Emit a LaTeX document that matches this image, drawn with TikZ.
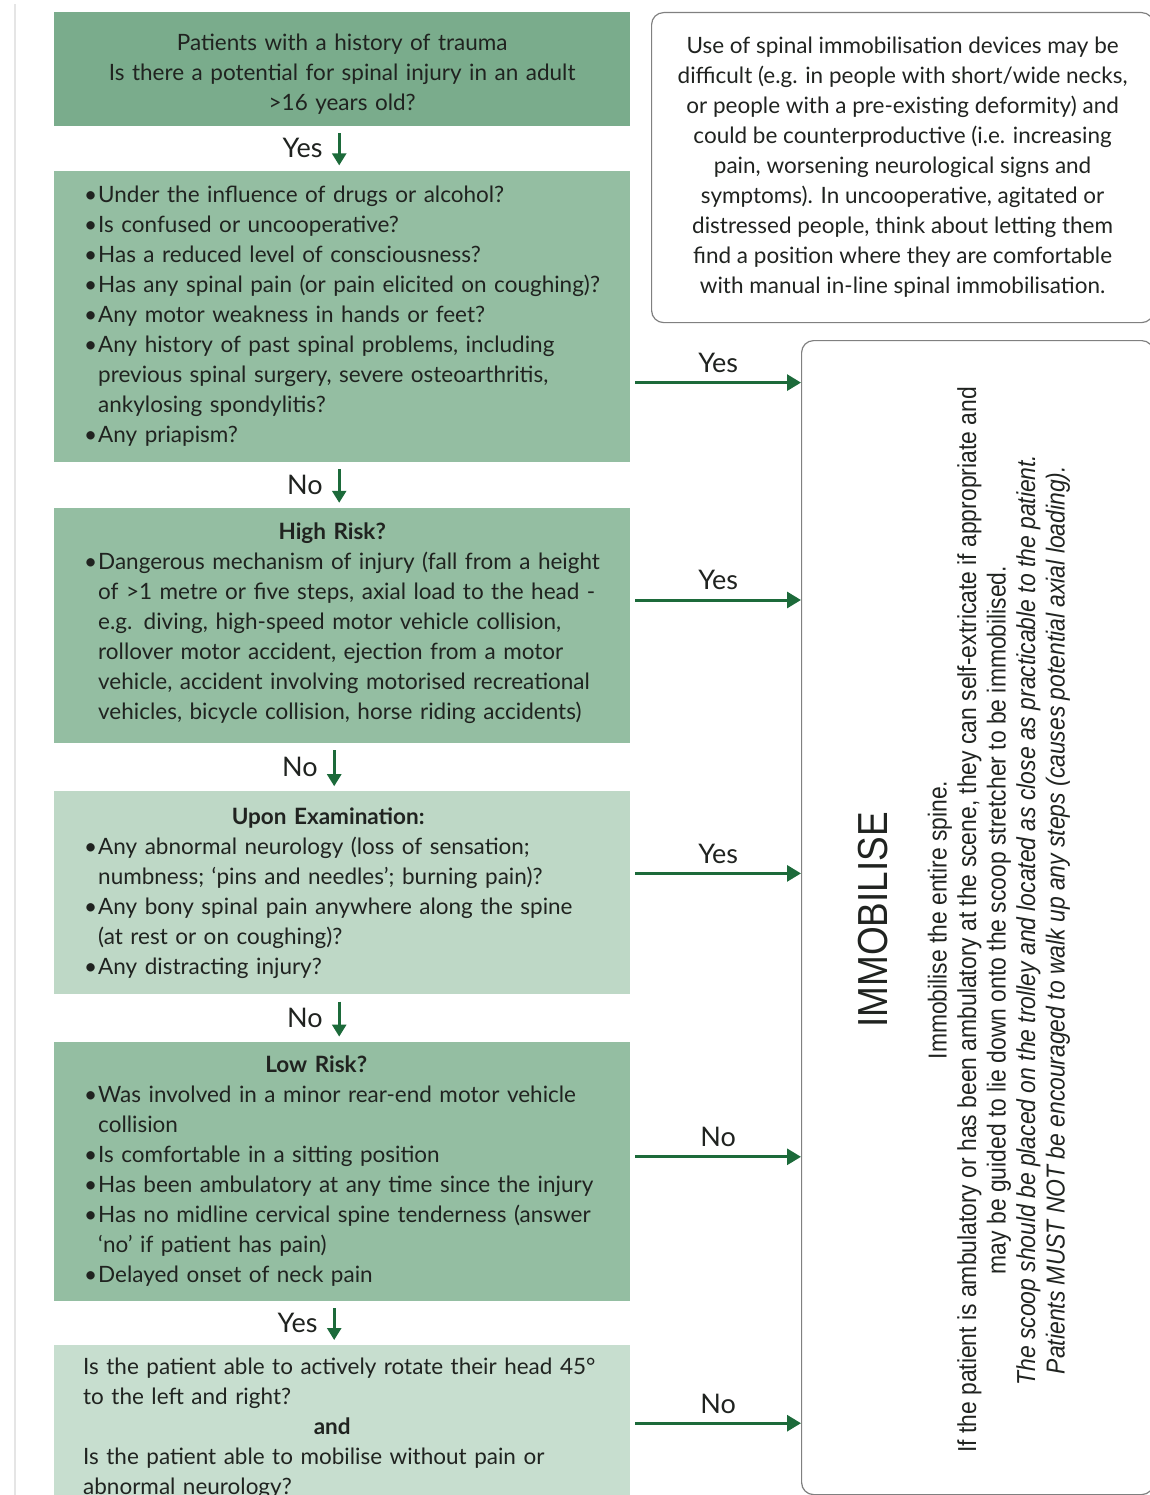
\documentclass[tikz,border=0pt]{standalone}
\usepackage{fontspec}
\setmainfont{Lato}
\newfontfamily\narrowfont[FakeStretch=0.88]{Liberation Sans}
\usetikzlibrary{positioning,arrows.meta}
\definecolor{gdark}{RGB}{122,172,140}
\definecolor{gmid}{RGB}{148,190,162}
\definecolor{gpale}{RGB}{190,216,198}
\definecolor{gpaler}{RGB}{199,222,207}
\definecolor{arrowgreen}{RGB}{28,106,58}
\definecolor{ink}{RGB}{32,35,32}
\newcommand\itm[1]{\par\hangindent=14pt\hangafter=1\noindent\makebox[14pt][l]{\textbullet}#1}
\newcommand\hd[2][0pt]{\centerline{\hspace*{#1}\bfseries #2}}
\begin{document}
\begin{tikzpicture}[x=1pt,y=-1pt, font=\fontsize{22.5}{30}\selectfont, every node/.style={text=ink},
  bx/.style={fill=#1, minimum width=576pt, text width=556pt, inner xsep=10pt, inner ysep=0pt, align=left},
  nt/.style={draw=black!50, line width=1.2pt, rounded corners=12pt},
  darr/.style={draw=arrowgreen, line width=2.6pt, -{Triangle[length=12pt,width=14pt]}, shorten <=7pt, shorten >=5pt},
  rarr/.style={draw=arrowgreen, line width=3pt, -{Triangle[length=14pt,width=16pt]}},
  lbl/.style={font=\fontsize{27}{27}\selectfont}]
\useasboundingbox (0,0) rectangle (1150,1495);
\draw[line width=2pt, black!10] (15,4) -- (15,1495);
\node[bx=gdark, align=center, minimum height=114pt, anchor=north west] (trauma) at (54,12) {Patients with a history of trauma\\ Is there a potential for spinal injury in an adult\\ >16 years old?\vspace*{-10pt}};
\node[bx=gmid, minimum height=291pt, below=44pt of trauma] (redflag) {\leftskip=20pt
 \itm{Under the influence of drugs or alcohol?}
 \itm{Is confused or uncooperative?}
 \itm{Has a reduced level of consciousness?}
 \itm{Has any spinal pain (or pain elicited on coughing)?}
 \itm{Any motor weakness in hands or feet?}
 \itm{Any history of past spinal problems, including\newline previous spinal surgery, severe osteoarthritis,\newline ankylosing spondylitis?}
 \itm{Any priapism?}\par\vspace*{14pt}};
\node[bx=gmid, minimum height=235pt, below=46pt of redflag] (highrisk) {\leftskip=20pt
 \hd[-60pt]{High Risk?}
 \itm{Dangerous mechanism of injury (fall from a height\newline of >1 metre or five steps, axial load to the head -\newline e.g. diving, high-speed motor vehicle collision,\newline rollover motor accident, ejection from a motor\newline vehicle, accident involving motorised recreational\newline vehicles, bicycle collision, horse riding accidents)}\par\vspace*{4pt}};
\node[bx=gpale, minimum height=203pt, below=48pt of highrisk] (exam) {\leftskip=20pt
 \hd[-68pt]{Upon Examination:}
 \itm{Any abnormal neurology (loss of sensation;\newline numbness; `pins and needles'; burning pain)?}
 \itm{Any bony spinal pain anywhere along the spine\newline (at rest or on coughing)?}
 \itm{Any distracting injury?}\par};
\node[bx=gmid, minimum height=259pt, below=47pt of exam] (lowrisk) {\leftskip=20pt
 \hd[-92pt]{Low Risk?}
 \itm{Was involved in a minor rear-end motor vehicle\newline collision}
 \itm{Is comfortable in a sitting position}
 \itm{Has been ambulatory at any time since the injury}
 \itm{Has no midline cervical spine tenderness (answer\newline `no' if patient has pain)}
 \itm{Delayed onset of neck pain}\par};
\node[bx=gpaler, minimum height=166pt, below=44pt of lowrisk] (rotate) {\leftskip=19pt\noindent
 Is the patient able to actively rotate their head 45°\newline to the left and right?\par
 \hd[-20pt]{and}
 \noindent Is the patient able to mobilise without pain or\newline abnormal neurology?\par};
\node[nt, minimum width=502pt, minimum height=310pt, anchor=north west, align=center] (caution) at (651,12) {Use of spinal immobilisation devices may be\\ difficult (e.g. in people with short/wide necks,\\ or people with a pre-existing deformity) and\\ could be counterproductive (i.e. increasing\\ pain, worsening neurological signs and\\ symptoms). In uncooperative, agitated or\\ distressed people, think about letting them\\ find a position where they are comfortable\\ with manual in-line spinal immobilisation.};
\node[nt, minimum width=352pt, minimum height=1154pt, anchor=north west] (imm) at (801,340) {};
\node[rotate=90, font=\narrowfont\fontsize{42}{42}\selectfont] (immhead) at (873,920) {IMMOBILISE};
\node[rotate=90, align=center, font=\narrowfont\fontsize{26}{29.5}\selectfont] (immtext) at (999,920) {Immobilise the entire spine.\\ If the patient is ambulatory or has been ambulatory at the scene, they can self-extricate if appropriate and\\ may be guided to lie down onto the scoop stretcher to be immobilised.\\ {\itshape The scoop should be placed on the trolley and located as close as practicable to the patient.}\\ {\itshape Patients MUST NOT be encouraged to walk up any steps (causes potential axial loading).}};
\draw[darr] ([xshift=-3pt]trauma.south) -- node[left=12pt, lbl]{Yes} ([xshift=-3pt]redflag.north);
\draw[darr] ([xshift=-3pt]redflag.south) -- node[left=12pt, lbl]{No} ([xshift=-3pt]highrisk.north);
\draw[darr] ([xshift=-8pt]highrisk.south) -- node[left=12pt, lbl]{No} ([xshift=-8pt]exam.north);
\draw[darr] ([xshift=-3pt]exam.south) -- node[left=12pt, lbl]{No} ([xshift=-3pt]lowrisk.north);
\draw[darr] ([xshift=-8pt]lowrisk.south) -- node[left=12pt, lbl]{Yes} ([xshift=-8pt]rotate.north);
\path ([xshift=5pt,yshift=-66.5pt]redflag.east) coordinate (y1)
 ([xshift=5pt,yshift=25.5pt]highrisk.east) coordinate (y2)
 ([xshift=5pt,yshift=19.5pt]exam.east) coordinate (y3)
 ([xshift=5pt,yshift=14.5pt]lowrisk.east) coordinate (y4)
 ([xshift=5pt,yshift=5pt]rotate.east) coordinate (y5);
\draw[rarr] (y1) -- node[above=5pt, lbl]{Yes} (y1 -| imm.west);
\draw[rarr] (y2) -- node[above=5pt, lbl]{Yes} (y2 -| imm.west);
\draw[rarr] (y3) -- node[above=5pt, lbl]{Yes} (y3 -| imm.west);
\draw[rarr] (y4) -- node[above=5pt, lbl]{No} (y4 -| imm.west);
\draw[rarr] (y5) -- node[above=5pt, lbl]{No} (y5 -| imm.west);
\end{tikzpicture}
\end{document}
